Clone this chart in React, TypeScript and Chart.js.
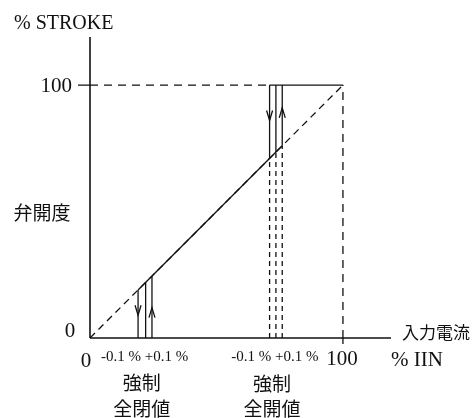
import React, { useEffect, useRef } from 'react';
import { Chart, registerables } from 'chart.js';

Chart.register(...registerables);

// ---- data ----
const AXIS_MAX = 119;
const xTicks = [0, 100];
const yTicks = [0, 100];
const xTickLabels = ['0', '100'];
const yTickLabels = ['0', '100'];
const fullStroke = 100;
const fullInput = 100;
const closeLines = [19, 22, 24.5]; // 強制全閉値: -0.1 %, center, +0.1 %
const openLines = [71, 73.5, 76]; // 強制全開値: -0.1 %, center, +0.1 %
const arrowsDown = [
  { x: 19, y: 9 },
  { x: 71, y: 86 },
];
const arrowsUp = [
  { x: 24.5, y: 12 },
  { x: 76, y: 91 },
];
const yTitle = '% STROKE';
const yName = '弁開度';
const xName = '入力電流';
const xUnit = '% IIN';
const bandTick = '-0.1 % +0.1 %';
const closeName = ['強制', '全閉値'];
const openName = ['強制', '全開値'];

const LATIN = "'Liberation Serif', 'Noto Sans CJK JP', serif";
const CJK = "'Noto Sans CJK JP', 'Liberation Serif', sans-serif";
const INK = '#111';

function line(data: { x: number; y: number }[], dash: number[] = [], width = 1.3) {
  return {
    data,
    borderColor: INK,
    borderWidth: width,
    borderDash: dash,
    pointRadius: 0,
    showLine: true,
    fill: false,
    clip: false as any,
    tension: 0,
  };
}

const overlay = {
  id: 'overlay',
  afterDatasetsDraw(chart: any) {
    const ctx = chart.ctx as CanvasRenderingContext2D;
    const xs = chart.scales.x;
    const ys = chart.scales.y;
    const px = (v: number) => xs.getPixelForValue(v);
    const py = (v: number) => ys.getPixelForValue(v);
    ctx.save();
    ctx.strokeStyle = INK;
    ctx.fillStyle = INK;
    ctx.lineWidth = 1.3;

    // arrows
    const arrow = (x: number, y: number, dir: number) => {
      const X = px(x);
      const Y = py(y);
      ctx.beginPath();
      ctx.moveTo(X - 3, Y - dir * 10);
      ctx.lineTo(X, Y);
      ctx.lineTo(X + 3, Y - dir * 10);
      ctx.stroke();
    };
    arrowsDown.forEach((a) => arrow(a.x, a.y, 1));
    arrowsUp.forEach((a) => arrow(a.x, a.y, -1));

    // tick marks at 100
    ctx.lineWidth = 1.3;
    ctx.beginPath();
    ctx.moveTo(px(0) - 12, py(yTicks[1]));
    ctx.lineTo(px(0), py(yTicks[1]));
    ctx.moveTo(px(xTicks[1]), py(0));
    ctx.lineTo(px(xTicks[1]), py(0) + 6);
    ctx.stroke();

    ctx.textBaseline = 'middle';
    // y tick labels
    ctx.font = `21px ${LATIN}`;
    ctx.textAlign = 'right';
    ctx.fillText(yTickLabels[1], px(0) - 18, py(yTicks[1]) + 1);
    ctx.textAlign = 'center';
    ctx.fillText(yTickLabels[0], px(0) - 20, py(yTicks[0]) - 7);
    // x tick labels
    ctx.fillText(xTickLabels[0], px(xTicks[0]) - 4, py(0) + 23);
    ctx.fillText(xTickLabels[1], px(xTicks[1]) - 1, py(0) + 21);
    // x unit
    ctx.fillText(xUnit, px(fullInput) + 74, py(0) + 22);

    // y title
    ctx.font = `20px ${LATIN}`;
    ctx.textAlign = 'left';
    ctx.fillText(yTitle, 14, py(AXIS_MAX) - 13);

    // band ticks
    ctx.font = `15px ${LATIN}`;
    ctx.textAlign = 'center';
    ctx.fillText(bandTick, px(closeLines[1]) - 1, py(0) + 19);
    ctx.fillText(bandTick, px(openLines[1]) - 1, py(0) + 19);

    // CJK names
    ctx.font = `19px ${CJK}`;
    ctx.textAlign = 'center';
    ctx.fillText(yName, 42, py(fullStroke / 2) + 1);
    ctx.fillText(closeName[0], px(closeLines[1]) - 4, py(0) + 45);
    ctx.fillText(closeName[1], px(closeLines[1]) - 4, py(0) + 71);
    ctx.fillText(openName[0], px(openLines[1]) - 4, py(0) + 46);
    ctx.fillText(openName[1], px(openLines[1]) - 4, py(0) + 71);

    ctx.font = `17px ${CJK}`;
    ctx.textAlign = 'left';
    ctx.fillText(xName, px(AXIS_MAX) + 11, py(0) - 5);

    ctx.restore();
  },
};

export default function App() {
  const ref = useRef<HTMLCanvasElement | null>(null);

  useEffect(() => {
    document.body.style.margin = '0';
    const canvas = ref.current;
    if (!canvas) return;

    const datasets: any[] = [
      // axes
      line([{ x: 0, y: 0 }, { x: AXIS_MAX, y: 0 }], [], 1.6),
      line([{ x: 0, y: 0 }, { x: 0, y: AXIS_MAX }], [], 1.6),
      // ideal diagonal (dashed)
      line([{ x: 0, y: 0 }, { x: fullInput, y: fullStroke }], [7, 5]),
      // actual response (solid)
      line([
        { x: closeLines[0], y: closeLines[0] },
        { x: openLines[2], y: openLines[2] },
      ]),
      // 100 % stroke level
      line([{ x: 0, y: fullStroke }, { x: openLines[0], y: fullStroke }], [8, 6]),
      line([{ x: openLines[0], y: fullStroke }, { x: fullInput, y: fullStroke }]),
      // 100 % input
      line([{ x: fullInput, y: 0 }, { x: fullInput, y: fullStroke }], [8, 6]),
      // forced close band
      ...closeLines.map((x) => line([{ x, y: 0 }, { x, y: x }])),
      // forced open band
      ...openLines.map((x) => line([{ x, y: x }, { x, y: fullStroke }])),
      ...openLines.map((x) => line([{ x, y: 0 }, { x, y: x }], [5, 4])),
    ];

    const chart = new Chart(canvas, {
      type: 'scatter',
      data: { datasets },
      options: {
        responsive: false,
        animation: false,
        events: [],
        layout: { padding: { left: 90, right: 85, top: 37, bottom: 80 } },
        plugins: {
          legend: { display: false },
          tooltip: { enabled: false },
        },
        scales: {
          x: { type: 'linear', min: 0, max: AXIS_MAX, display: false },
          y: { type: 'linear', min: 0, max: AXIS_MAX, display: false },
        },
      },
      plugins: [overlay],
    });

    return () => chart.destroy();
  }, []);

  return (
    <div style={{ width: 476, height: 418, background: '#fff' }}>
      <canvas ref={ref} width={476} height={418} style={{ display: 'block' }} />
    </div>
  );
}
